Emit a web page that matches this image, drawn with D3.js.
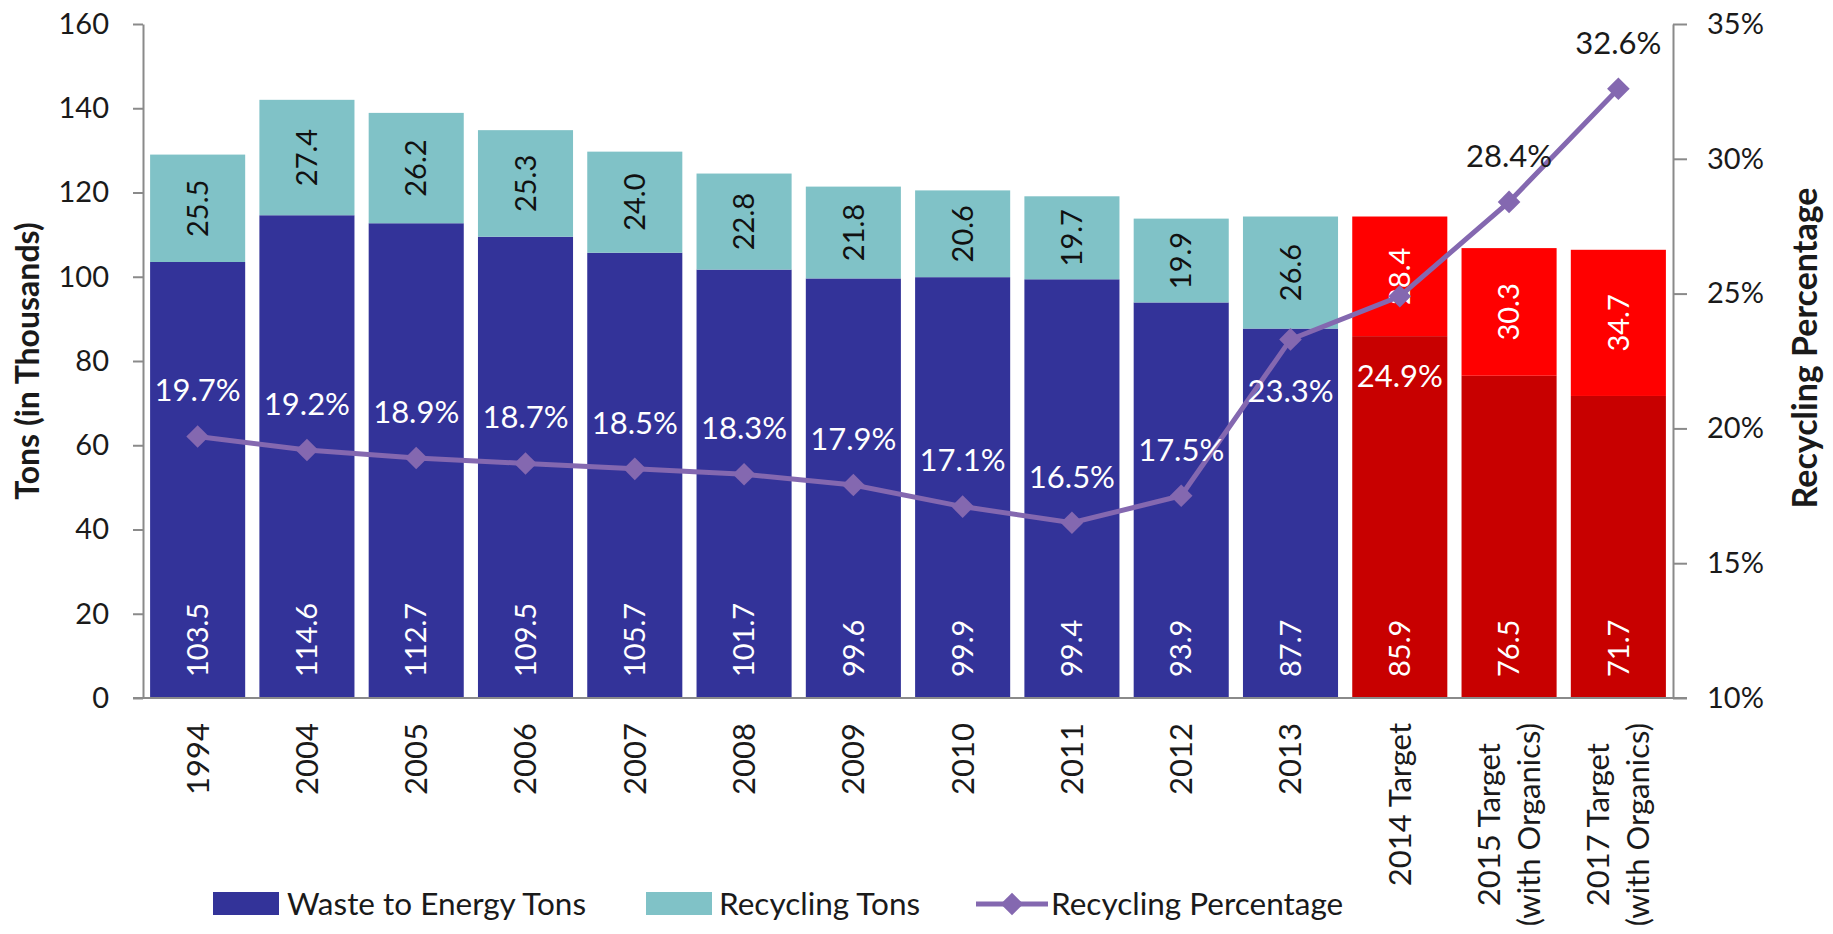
<!DOCTYPE html>
<meta charset="utf-8">
<style>
body { margin: 0; background: #fff; }
text { font-family: Lato, "Open Sans", sans-serif; fill: #1a1a1a; }
.axis path, .axis line { stroke: #8a8a8a; stroke-width: 2px; }
.axis text { font-size: 29px; fill: #1a1a1a; }
.title { font-weight: bold; }
.lbl { font-size: 29px; }
.pctl { font-size: 31px; }
.cat { font-size: 31px; }
.leg { font-size: 31.5px; }
</style>
<svg width="1833" height="934"></svg>
<script src="https://d3js.org/d3.v7.min.js"></script>
<script>
var categories = ["1994", "2004", "2005", "2006", "2007", "2008", "2009", "2010", "2011", "2012", "2013",
  "2014 Target", "2015 Target|(with Organics)", "2017 Target|(with Organics)"];
var wasteTons = [103.5, 114.6, 112.7, 109.5, 105.7, 101.7, 99.6, 99.9, 99.4, 93.9, 87.7, 85.9, 76.5, 71.7];
var recyclingTons = [25.5, 27.4, 26.2, 25.3, 24.0, 22.8, 21.8, 20.6, 19.7, 19.9, 26.6, 28.4, 30.3, 34.7];
var recyclingPct = [19.7, 19.2, 18.9, 18.7, 18.5, 18.3, 17.9, 17.1, 16.5, 17.5, 23.3, 24.9, 28.4, 32.6];
var isTarget = [0, 0, 0, 0, 0, 0, 0, 0, 0, 0, 0, 1, 1, 1];
var leftTicks = [0, 20, 40, 60, 80, 100, 120, 140, 160];
var rightTicks = [10, 15, 20, 25, 30, 35];

var svg = d3.select("svg");
var mLeft = 143, mRight = 1673, mTop = 24, mBottom = 698;

var x = d3.scaleBand().domain(categories).range([mLeft, mRight]).paddingInner(0.13).paddingOuter(0.065);
var y = d3.scaleLinear().domain([0, 160]).range([mBottom, mTop]);
var y2 = d3.scaleLinear().domain([10, 35]).range([mBottom, mTop]);

var rows = categories.map(function(c, i) {
  return {cat: c, waste: wasteTons[i], rec: recyclingTons[i], pct: recyclingPct[i], target: isTarget[i]};
});

// bars
var bars = svg.append("g");
bars.selectAll(".w").data(rows).enter().append("rect")
  .attr("x", d => x(d.cat)).attr("width", x.bandwidth())
  .attr("y", d => y(d.waste)).attr("height", d => y(0) - y(d.waste))
  .attr("fill", d => d.target ? "#c80000" : "#333399");
bars.selectAll(".r").data(rows).enter().append("rect")
  .attr("x", d => x(d.cat)).attr("width", x.bandwidth())
  .attr("y", d => y(d.waste + d.rec)).attr("height", d => y(d.waste) - y(d.waste + d.rec))
  .attr("fill", d => d.target ? "#ff0000" : "#80c2c7");

// axes
svg.append("g").attr("class", "axis").attr("transform", "translate(" + mLeft + ",0)")
  .call(d3.axisLeft(y).tickValues(leftTicks).tickSize(10).tickPadding(24).tickSizeOuter(0));
svg.append("g").attr("class", "axis").attr("transform", "translate(" + mRight + ",0)")
  .call(d3.axisRight(y2).tickValues(rightTicks).tickFormat(d => d + "%").tickSize(14).tickPadding(20).tickSizeOuter(0));
svg.append("line").attr("x1", mLeft - 10).attr("x2", mRight + 14).attr("y1", mBottom).attr("y2", mBottom)
  .attr("stroke", "#8a8a8a").attr("stroke-width", 2);

// bar value labels
var cx = d => x(d.cat) + x.bandwidth() / 2;
svg.selectAll(".wl").data(rows).enter().append("text").attr("class", "lbl")
  .attr("transform", d => "translate(" + cx(d) + "," + (y(0) - 21) + ") rotate(-90)")
  .attr("dy", "0.35em").style("fill", "#fff")
  .text(d => d.waste.toFixed(1));
svg.selectAll(".rl").data(rows).enter().append("text").attr("class", "lbl")
  .attr("transform", d => "translate(" + cx(d) + "," + y(d.waste + d.rec / 2) + ") rotate(-90)")
  .attr("dy", "0.35em").attr("text-anchor", "middle")
  .style("fill", d => d.target ? "#fff" : "#111")
  .text(d => d.rec.toFixed(1));

// line
var line = d3.line().x(cx).y(d => y2(d.pct));
svg.append("path").datum(rows).attr("d", line)
  .attr("fill", "none").attr("stroke", "#8468b0").attr("stroke-width", 5);
svg.selectAll(".mk").data(rows).enter().append("rect")
  .attr("x", -8).attr("y", -8).attr("width", 16).attr("height", 16)
  .attr("transform", d => "translate(" + cx(d) + "," + y2(d.pct) + ") rotate(45)")
  .attr("fill", "#8468b0");

// percentage labels (two sit below their point)
var below = {"2013": 52, "2014 Target": 80};
svg.selectAll(".pl").data(rows).enter().append("text").attr("class", "pctl")
  .attr("x", cx).attr("y", d => y2(d.pct) + (below[d.cat] || -46))
  .attr("dy", "0.35em").attr("text-anchor", "middle")
  .style("fill", d => d.pct > 26 ? "#1a1a1a" : "#fff")
  .text(d => d.pct.toFixed(1) + "%");

// category labels
svg.selectAll(".cl").data(rows).enter().append("text").attr("class", "cat")
  .each(function(d) {
    var t = d3.select(this), parts = d.cat.split("|");
    t.attr("text-anchor", "middle");
    parts.forEach(function(p, i) {
      t.append("tspan").attr("x", 0)
        .attr("dy", i === 0 ? (0.35 - (parts.length - 1) * 0.65) + "em" : "1.3em").text(p);
    });
    var w = d3.max(t.selectAll("tspan").nodes(), n => n.getComputedTextLength());
    t.attr("transform", "translate(" + cx(d) + "," + (mBottom + 25 + w / 2) + ") rotate(-90)");
  });

// axis titles
svg.append("text").attr("class", "title").attr("text-anchor", "middle").style("font-size", "32px")
  .attr("transform", "translate(28," + ((mTop + mBottom) / 2) + ") rotate(-90)").attr("dy", "0.35em")
  .text("Tons (in Thousands)");
svg.append("text").attr("class", "title").attr("text-anchor", "middle").style("font-size", "34px")
  .attr("transform", "translate(1805,348) rotate(-90)").attr("dy", "0.35em")
  .text("Recycling Percentage");

// legend
var leg = svg.append("g");
leg.append("rect").attr("x", 213).attr("y", 892).attr("width", 66).attr("height", 23).attr("fill", "#333399");
leg.append("text").attr("class", "leg").attr("x", 287).attr("y", 904).attr("dy", "0.35em").text("Waste to Energy Tons");
leg.append("rect").attr("x", 646).attr("y", 892).attr("width", 66).attr("height", 23).attr("fill", "#80c2c7");
leg.append("text").attr("class", "leg").attr("x", 719).attr("y", 904).attr("dy", "0.35em").text("Recycling Tons");
leg.append("line").attr("x1", 976).attr("x2", 1048).attr("y1", 904).attr("y2", 904)
  .attr("stroke", "#8468b0").attr("stroke-width", 5);
leg.append("rect").attr("x", -8).attr("y", -8).attr("width", 16).attr("height", 16)
  .attr("transform", "translate(1012,904) rotate(45)").attr("fill", "#8468b0");
leg.append("text").attr("class", "leg").attr("x", 1051).attr("y", 904).attr("dy", "0.35em").text("Recycling Percentage");
</script>
